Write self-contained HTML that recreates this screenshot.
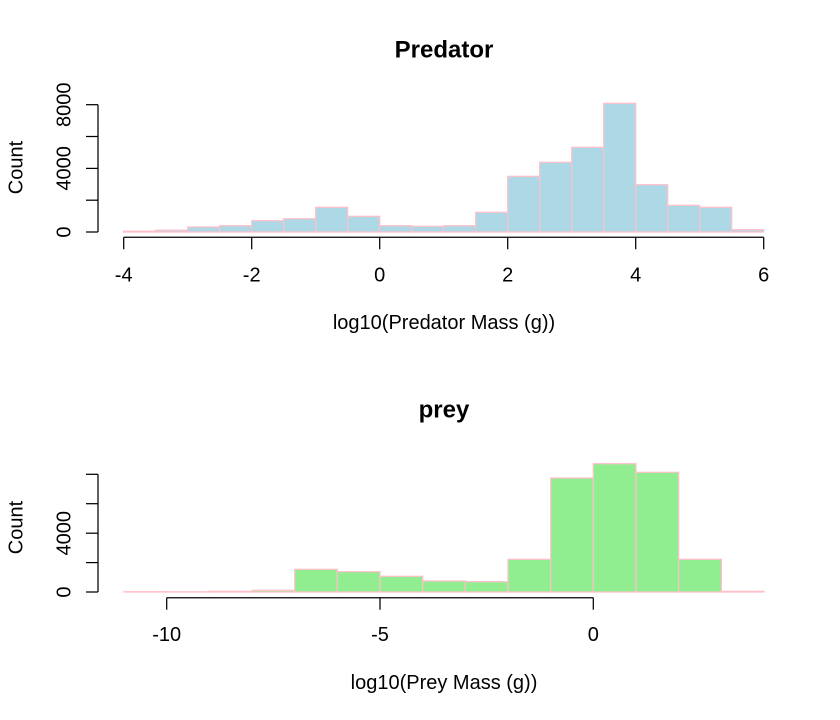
<!DOCTYPE html>
<html>
<head>
<meta charset="utf-8">
<style>
  html, body { margin: 0; padding: 0; background: #ffffff; }
  svg { display: block; }
  text { font-family: "Liberation Sans", Arial, sans-serif; fill: #000; }
</style>
</head>
<body>
<svg width="840" height="720" viewBox="0 0 840 720" xmlns="http://www.w3.org/2000/svg">
  <rect x="0" y="0" width="840" height="720" fill="#ffffff"/>

  <!-- ================= TOP: Predator ================= -->
  <text x="444" y="57.3" font-size="24" font-weight="bold" text-anchor="middle">Predator</text>

  <g fill="#ADD8E6" stroke="#FFC0CB" stroke-width="1.25">
    <rect x="123.7" y="231.2" width="32" height="0.8"/>
    <rect x="155.7" y="230.2" width="32" height="1.8"/>
    <rect x="187.7" y="227.0" width="32" height="5.0"/>
    <rect x="219.7" y="225.7" width="32" height="6.3"/>
    <rect x="251.7" y="220.7" width="32" height="11.3"/>
    <rect x="283.7" y="218.7" width="32" height="13.3"/>
    <rect x="315.7" y="207.3" width="32" height="24.7"/>
    <rect x="347.7" y="216.3" width="32" height="15.7"/>
    <rect x="379.7" y="225.7" width="32" height="6.3"/>
    <rect x="411.7" y="226.3" width="32" height="5.7"/>
    <rect x="443.7" y="225.7" width="32" height="6.3"/>
    <rect x="475.7" y="212.3" width="32" height="19.7"/>
    <rect x="507.7" y="176.3" width="32" height="55.7"/>
    <rect x="539.7" y="162.3" width="32" height="69.7"/>
    <rect x="571.7" y="147.3" width="32" height="84.7"/>
    <rect x="603.7" y="103.3" width="32" height="128.7"/>
    <rect x="635.7" y="184.7" width="32" height="47.3"/>
    <rect x="667.7" y="205.3" width="32" height="26.7"/>
    <rect x="699.7" y="207.3" width="32" height="24.7"/>
    <rect x="731.7" y="229.7" width="32" height="2.3"/>
  </g>

  <!-- x axis top -->
  <g stroke="#000" stroke-width="1.25" fill="none">
    <line x1="123.7" y1="237.3" x2="763.7" y2="237.3"/>
    <line x1="123.7" y1="237.3" x2="123.7" y2="249.3"/>
    <line x1="251.7" y1="237.3" x2="251.7" y2="249.3"/>
    <line x1="379.7" y1="237.3" x2="379.7" y2="249.3"/>
    <line x1="507.7" y1="237.3" x2="507.7" y2="249.3"/>
    <line x1="635.7" y1="237.3" x2="635.7" y2="249.3"/>
    <line x1="763.7" y1="237.3" x2="763.7" y2="249.3"/>
  </g>
  <g font-size="20" text-anchor="middle">
    <text x="123.7" y="281.5">-4</text>
    <text x="251.7" y="281.5">-2</text>
    <text x="379.7" y="281.5">0</text>
    <text x="507.7" y="281.5">2</text>
    <text x="635.7" y="281.5">4</text>
    <text x="763.7" y="281.5">6</text>
  </g>
  <text x="444" y="329" font-size="20" text-anchor="middle">log10(Predator Mass (g))</text>

  <!-- y axis top -->
  <g stroke="#000" stroke-width="1.25" fill="none">
    <line x1="98" y1="104.7" x2="98" y2="232"/>
    <line x1="86" y1="232" x2="98" y2="232"/>
    <line x1="86" y1="200.2" x2="98" y2="200.2"/>
    <line x1="86" y1="168.4" x2="98" y2="168.4"/>
    <line x1="86" y1="136.5" x2="98" y2="136.5"/>
    <line x1="86" y1="104.7" x2="98" y2="104.7"/>
  </g>
  <g font-size="20" text-anchor="middle">
    <text transform="translate(70.7,232) rotate(-90)">0</text>
    <text transform="translate(70.7,168.4) rotate(-90)">4000</text>
    <text transform="translate(70.7,104.7) rotate(-90)">8000</text>
  </g>
  <text transform="translate(22.7,167.5) rotate(-90)" font-size="20" text-anchor="middle">Count</text>

  <!-- ================= BOTTOM: prey ================= -->
  <text x="444" y="417.5" font-size="24" font-weight="bold" text-anchor="middle">prey</text>

  <g fill="#90EE90" stroke="#FFC0CB" stroke-width="1.25">
    <rect x="124.0" y="591.7" width="42.67" height="0.3"/>
    <rect x="166.7" y="591.8" width="42.67" height="0.2"/>
    <rect x="209.3" y="591.3" width="42.67" height="0.7"/>
    <rect x="252.0" y="590.3" width="42.67" height="1.7"/>
    <rect x="294.7" y="569.3" width="42.67" height="22.7"/>
    <rect x="337.3" y="571.7" width="42.67" height="20.3"/>
    <rect x="380.0" y="576.3" width="42.67" height="15.7"/>
    <rect x="422.7" y="581.0" width="42.67" height="11.0"/>
    <rect x="465.3" y="581.7" width="42.67" height="10.3"/>
    <rect x="508.0" y="559.3" width="42.67" height="32.7"/>
    <rect x="550.7" y="478.0" width="42.67" height="114.0"/>
    <rect x="593.3" y="463.7" width="42.67" height="128.3"/>
    <rect x="636.0" y="472.3" width="42.67" height="119.7"/>
    <rect x="678.7" y="559.3" width="42.67" height="32.7"/>
    <rect x="721.3" y="591.3" width="42.67" height="0.7"/>
  </g>

  <!-- x axis bottom -->
  <g stroke="#000" stroke-width="1.25" fill="none">
    <line x1="166.7" y1="597.7" x2="593.3" y2="597.7"/>
    <line x1="166.7" y1="597.7" x2="166.7" y2="609.7"/>
    <line x1="380" y1="597.7" x2="380" y2="609.7"/>
    <line x1="593.3" y1="597.7" x2="593.3" y2="609.7"/>
  </g>
  <g font-size="20" text-anchor="middle">
    <text x="166.7" y="641">-10</text>
    <text x="380" y="641">-5</text>
    <text x="593.3" y="641">0</text>
  </g>
  <text x="444" y="689" font-size="20" text-anchor="middle">log10(Prey Mass (g))</text>

  <!-- y axis bottom -->
  <g stroke="#000" stroke-width="1.25" fill="none">
    <line x1="98" y1="474.3" x2="98" y2="592"/>
    <line x1="86" y1="592" x2="98" y2="592"/>
    <line x1="86" y1="562.6" x2="98" y2="562.6"/>
    <line x1="86" y1="533.2" x2="98" y2="533.2"/>
    <line x1="86" y1="503.7" x2="98" y2="503.7"/>
    <line x1="86" y1="474.3" x2="98" y2="474.3"/>
  </g>
  <g font-size="20" text-anchor="middle">
    <text transform="translate(70.7,592) rotate(-90)">0</text>
    <text transform="translate(70.7,533.2) rotate(-90)">4000</text>
  </g>
  <text transform="translate(22.7,527.5) rotate(-90)" font-size="20" text-anchor="middle">Count</text>
</svg>
</body>
</html>
